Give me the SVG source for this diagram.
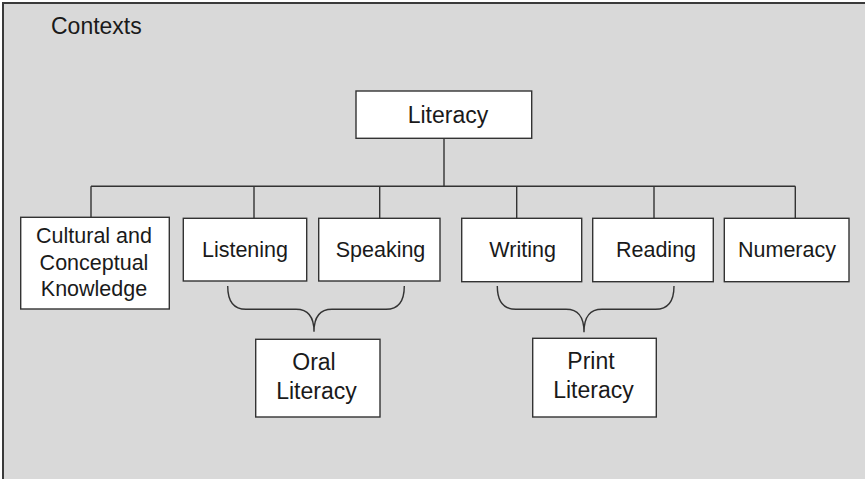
<svg xmlns="http://www.w3.org/2000/svg" width="865" height="479" viewBox="0 0 865 479">
<style>
.bg{fill:#d9d9d9;stroke:#3a3a3a;stroke-width:2}
.box{fill:#ffffff;stroke:#333333;stroke-width:1.4}
.ln{fill:none;stroke:#333333;stroke-width:1.4}
text{font-family:"Liberation Sans",Arial,sans-serif;fill:#1a1a1a;text-anchor:middle}
.t{font-size:21.5px}
.tl{font-size:23px}
</style>
<rect class="bg" x="3" y="3" width="870" height="490"/>
<text x="51" y="34" style="font-size:23px;text-anchor:start">Contexts</text>
<g id="connectors">
<path class="ln" d="M444,138.3 V186.3 M91,186.3 H795.3 M91,186.3 V217.3 M254,186.3 V218.3 M379.7,186.3 V218.3 M516.7,186.3 V218.3 M654,186.3 V218.3 M795.3,186.3 V218.3"/>
<path class="ln" d="M227.7,286 C227.7,301 233,309.3 246,309.3 L296,309.3 C308,309.3 314,316 314,331.7 M404.3,286 C404.3,301 399,309.3 386,309.3 L332,309.3 C320,309.3 314,316 314,331.7"/>
<path class="ln" d="M497.3,286 C497.3,301 503,309.3 516,309.3 L566,309.3 C578,309.3 584,316 584,332.3 M674,286 C674,301 668.5,309.3 655.5,309.3 L602,309.3 C590,309.3 584,316 584,332.3"/>
</g>
<g id="literacy"><rect class="box" x="356" y="91" width="175.7" height="47.3"/><text class="tl" x="448" y="123.3">Literacy</text></g>
<g id="cultural"><rect class="box" x="20.7" y="217.3" width="148.6" height="91.7"/><text class="t" x="94" y="243.3">Cultural and</text><text class="t" x="94" y="269.5">Conceptual</text><text class="t" x="94" y="295.5">Knowledge</text></g>
<g id="listening"><rect class="box" x="183.3" y="218.3" width="123.4" height="62.7"/><text class="t" x="245" y="257.3">Listening</text></g>
<g id="speaking"><rect class="box" x="318.7" y="218.3" width="121.3" height="62.7"/><text class="t" x="380.5" y="257.3">Speaking</text></g>
<g id="writing"><rect class="box" x="461.7" y="218.3" width="120" height="63.4"/><text class="t" x="522.6" y="257.3">Writing</text></g>
<g id="reading"><rect class="box" x="592.7" y="218.3" width="120.6" height="63.4"/><text class="t" x="656" y="257.3">Reading</text></g>
<g id="numeracy"><rect class="box" x="724.3" y="218.3" width="124.7" height="63.4"/><text class="t" x="787" y="257.3">Numeracy</text></g>
<g id="oral"><rect class="box" x="255.7" y="339.3" width="124.3" height="77.7"/><text class="tl" x="314" y="370">Oral</text><text class="tl" x="316.5" y="399">Literacy</text></g>
<g id="print"><rect class="box" x="532.7" y="338.3" width="123.6" height="78.7"/><text class="tl" x="591" y="368.5">Print</text><text class="tl" x="593.5" y="397.5">Literacy</text></g>
</svg>
